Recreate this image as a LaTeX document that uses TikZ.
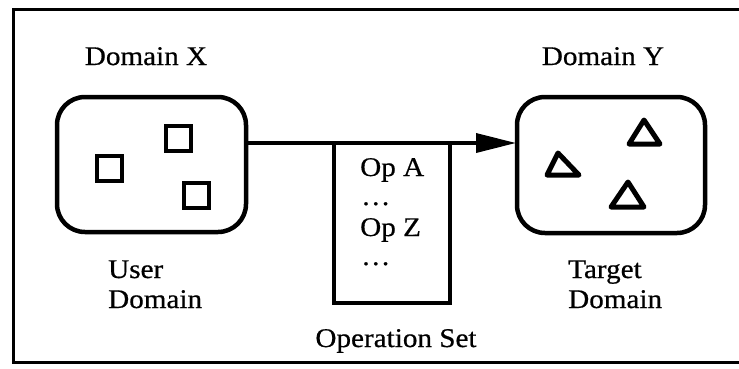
\documentclass[tikz,border=0pt]{standalone}
\usepackage{fontspec}
\setmainfont[FakeStretch=1.08, FakeBold=0.6]{Liberation Serif}
\usetikzlibrary{arrows.meta}

\tikzset{
  lbl/.style={inner sep=0pt, font=\fontsize{27}{30}\selectfont},
  domainbox/.style={draw, line width=4.5pt, rounded corners=28pt},
  itembox/.style={draw, line width=4pt},
  itemtri/.style={draw, line width=5pt, line join=round},
  flow/.style={line width=3.5pt},
}

\begin{document}
\begin{tikzpicture}[x=1pt, y=-1pt]
  \useasboundingbox (0,0) rectangle (739,368);

  % outer frame (open on the right)
  \draw[line width=3pt] (739,9) -- (13,9) -- (13,362) -- (739,362);

  % domains
  \node[domainbox, minimum width=189pt, minimum height=135pt] (dx) at (151.5,164.5) {};
  \node[domainbox, minimum width=188pt, minimum height=136pt] (dy) at (611,165) {};

  % elements of Domain X
  \node[itembox, minimum size=25pt] (s1) at (109,168) {};
  \node[itembox, minimum size=25pt] (s2) at (178,138) {};
  \node[itembox, minimum size=25pt] (s3) at (196,195) {};

  % elements of Domain Y
  \draw[itemtri] (547,175) -- (558,153) -- (579,175) -- cycle;
  \draw[itemtri] (629,144) -- (644,120) -- (660,144) -- cycle;
  \draw[itemtri] (611,207) -- (628,182) -- (644,207) -- cycle;

  % mapping arrow with operation set
  \coordinate (a0) at (246,143);
  \coordinate (a1) at (516,143);
  \draw[flow, -{Triangle[length=40pt, width=19pt]}] (a0) -- (a1);
  \coordinate (op1) at (334,143);
  \coordinate (op2) at (450,143);
  \draw[flow] (op1) -- (334,303) -- (450,303) -- (op2);

  % operations
  \node[lbl, anchor=base west] (opa) at (360,176) {Op A};
  \node[lbl, anchor=base west] (d1) at (361,205) {\dots};
  \node[lbl, anchor=base west] (opz) at (360,236) {Op Z};
  \node[lbl, anchor=base west] (d2) at (361,265) {\dots};

  % labels
  \node[lbl, anchor=base] (lx) at (146,65) {Domain X};
  \node[lbl, anchor=base] (ly) at (603,65) {Domain Y};
  \node[lbl, anchor=base west] (lu1) at (108,278) {User};
  \node[lbl, anchor=base west] (lu2) at (108,308) {Domain};
  \node[lbl, anchor=base west] (lt1) at (568,278) {Target};
  \node[lbl, anchor=base west] (lt2) at (568,308) {Domain};
  \node[lbl, anchor=base] (lo) at (396,347) {Operation Set};
\end{tikzpicture}
\end{document}
